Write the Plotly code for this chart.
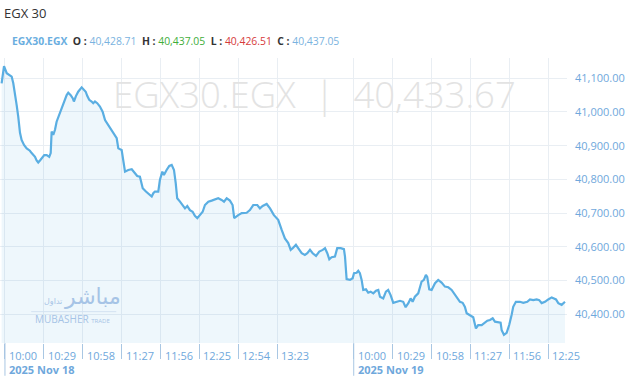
import plotly.graph_objects as go

# minute index (day 1 starts at 0, day 2 starts at 260)
minute_idx = [-2.5, -0.7, 1.3, 3.2, 5.0, 6.2, 7.5, 8.7, 9.9, 11.2, 12.4, 14.2, 16.2, 18.6, 19.9, 21.1, 22.4, 23.6, 24.8, 26.1,
              27.8, 29.3, 31.1, 33.0, 34.1, 34.8, 36.0, 37.3, 38.5, 41.0, 43.5, 46.0, 47.2, 49.0, 50.5, 51.4, 52.9, 54.6, 57.2, 58.4,
              60.2, 61.4, 62.8, 64.6, 65.8, 67.1, 68.8, 70.8, 72.8, 74.6, 77.0, 79.5, 82.0, 83.3, 84.5, 87.0, 89.5, 91.9, 94.5, 96.9,
              98.6, 100.6, 102.7, 105.1, 107.6, 109.4, 110.6, 111.8, 114.3, 115.5, 117.3, 118.5, 120.5, 122.5, 124.3, 126.0, 127.3, 128.4, 130.5, 132.5,
              134.2, 135.9, 137.9, 139.9, 141.6, 143.4, 145.4, 147.4, 149.1, 151.6, 154.1, 156.5, 159.0, 161.5, 163.3, 165.3, 167.7, 169.7, 170.9, 173.9,
              176.5, 180.2, 182.6, 185.1, 188.1, 190.1, 192.1, 195.1, 197.6, 200.5, 203.7, 206.3, 208.7, 211.2, 213.0, 214.5, 216.9, 218.6, 221.2, 223.6,
              225.4, 227.4, 229.4, 231.9, 234.3, 236.9, 238.6, 240.3, 241.8, 243.5, 246.0, 247.7, 250.3, 252.7, 253.5, 254.7, 257.2, 259.2, 260.2, 262.2,
              263.4, 264.6, 265.9, 267.1, 269.1, 270.8, 272.6, 274.6, 276.6, 278.3, 279.6, 282.0, 284.0, 285.7, 287.5, 289.5, 292.0, 294.5, 296.9, 298.7,
              300.7, 302.4, 303.9, 305.6, 308.1, 310.6, 312.3, 313.8, 314.8, 316.3, 318.1, 320.6, 323.0, 325.5, 328.0, 330.5, 333.0, 335.5, 337.9, 339.2,
              341.2, 342.9, 344.2, 346.6, 349.1, 351.1, 352.8, 355.4, 357.8, 359.6, 361.6, 363.6, 365.3, 367.8, 369.5, 370.3, 372.0, 374.0, 375.9, 377.7,
              378.9, 380.9, 383.9, 386.4, 389.4, 391.4, 393.8, 396.4, 398.3, 400.1, 402.6, 405.0, 407.6, 409.3, 410.8, 412.5, 415.0, 417.5]

index_values = [41085, 41136, 41115, 41110, 41105, 41085, 41056, 41021, 40986, 40938, 40917, 40902, 40892, 40885, 40878, 40872, 40867, 40856, 40850, 40856,
                40863, 40872, 40872, 40867, 40878, 40942, 40932, 40947, 40971, 40996, 41026, 41050, 41057, 41050, 41041, 41031, 41047, 41060, 41073, 41067,
                41060, 41047, 41036, 41031, 41026, 41031, 41026, 41016, 41001, 40976, 40961, 40947, 40932, 40922, 40892, 40887, 40823, 40828, 40830, 40818,
                40810, 40808, 40774, 40764, 40754, 40749, 40759, 40764, 40764, 40798, 40823, 40813, 40828, 40840, 40843, 40828, 40789, 40744, 40734, 40724,
                40714, 40721, 40709, 40704, 40692, 40685, 40694, 40704, 40724, 40734, 40737, 40741, 40744, 40739, 40734, 40744, 40737, 40724, 40685, 40694,
                40700, 40701, 40709, 40724, 40724, 40714, 40721, 40727, 40714, 40694, 40680, 40650, 40625, 40611, 40591, 40596, 40606, 40596, 40581, 40576,
                40581, 40591, 40581, 40573, 40586, 40591, 40596, 40581, 40563, 40569, 40571, 40596, 40596, 40593, 40571, 40504, 40502, 40507, 40522, 40523,
                40529, 40522, 40502, 40472, 40474, 40464, 40467, 40462, 40470, 40472, 40452, 40447, 40467, 40472, 40457, 40434, 40437, 40440, 40437, 40421,
                40433, 40447, 40437, 40452, 40462, 40497, 40502, 40517, 40511, 40474, 40472, 40492, 40502, 40494, 40482, 40480, 40472, 40457, 40442, 40437,
                40434, 40422, 40403, 40398, 40391, 40358, 40368, 40368, 40375, 40381, 40383, 40388, 40378, 40376, 40375, 40353, 40339, 40345, 40368, 40398,
                40422, 40437, 40437, 40434, 40437, 40444, 40442, 40444, 40442, 40433, 40437, 40444, 40450, 40447, 40444, 40433, 40428, 40437.05]

tick_vals = [0, 29, 58, 87, 116, 145, 174, 203, 260, 289, 318, 347, 376, 405]
tick_text = ["10:00", "10:29", "10:58", "11:27", "11:56", "12:25", "12:54", "13:23",
             "10:00", "10:29", "10:58", "11:27", "11:56", "12:25"]
day_vals = [0, 260]
day_text = ["2025 Nov 18", "2025 Nov 19"]
y_ticks = [40400, 40500, 40600, 40700, 40800, 40900, 41000, 41100]

title_text = "EGX 30"
symbol = "EGX30.EGX"
ohlc = {"O": "40,428.71", "H": "40,437.05", "L": "40,426.51", "C": "40,437.05"}
last_value = "40,433.67"

LINE = "#5aaee2"
AXTXT = "#6fa8dc"
FONT = "Open Sans"
LOGO = "#a6c4e6"

fig = go.Figure()
fig.add_trace(go.Scatter(
    x=minute_idx, y=index_values, mode="lines",
    line=dict(color=LINE, width=2.2),
    fill="tozeroy", fillcolor="rgba(90,174,226,0.10)",
    hoverinfo="skip", showlegend=False,
))

fig.update_layout(
    width=640, height=376,
    margin=dict(l=0, r=73, t=58, b=33),
    paper_bgcolor="white", plot_bgcolor="white",
    font=dict(family=FONT, size=11, color=AXTXT),
    xaxis=dict(range=[-3.7, 419], tickvals=tick_vals, showticklabels=False,
               showgrid=True, gridcolor="#e9eef3", gridwidth=1,
               ticks="outside", ticklen=15, tickcolor="#a9c7e3", tickwidth=1,
               zeroline=False, showline=False, fixedrange=True),
    yaxis=dict(range=[40314.8, 41160], side="right", tickvals=y_ticks,
               tickformat=",.2f", showgrid=True, gridcolor="#e9eef3", gridwidth=1,
               tickfont=dict(family=FONT, size=11, color=AXTXT),
               ticks="", ticklabelstandoff=7, zeroline=False, showline=False),
)

# x tick labels (left aligned after tick marks)
for v, t in zip(tick_vals, tick_text):
    fig.add_annotation(x=v, y=-0.012, xref="x", yref="paper", text=t, showarrow=False,
                       xanchor="left", yanchor="top", xshift=2,
                       font=dict(family=FONT, size=11, color=AXTXT))
for v, t in zip(day_vals, day_text):
    fig.add_annotation(x=v, y=-0.058, xref="x", yref="paper", text="<b>" + t + "</b>", showarrow=False,
                       xanchor="left", yanchor="top", xshift=2,
                       font=dict(family=FONT, size=11, color=AXTXT))
    fig.add_shape(type="line", xref="x", yref="paper", x0=v, x1=v, y0=0, y1=-0.115,
                  line=dict(color="#a9c7e3", width=1))

# watermark
fig.add_annotation(x=0.555, y=0.875, xref="paper", yref="paper",
                   text=symbol + "  |  " + last_value, showarrow=False,
                   font=dict(family=FONT, size=36.5, color="#e3e3e3", weight=300),
                   xanchor="center", yanchor="middle")

# Mubasher logo
fig.add_annotation(x=0.163, y=0.163, xref="paper", yref="paper", text="مباشر",
                   showarrow=False, font=dict(family="DejaVu Sans", size=22, color=LOGO),
                   xanchor="center", yanchor="middle")
fig.add_annotation(x=0.094, y=0.145, xref="paper", yref="paper", text="تداول",
                   showarrow=False, font=dict(family="DejaVu Sans", size=8, color=LOGO),
                   xanchor="center", yanchor="middle")
fig.add_shape(type="line", xref="paper", yref="paper", x0=0.055, x1=0.205, y0=0.11, y1=0.11,
              line=dict(color="#d3e2f2", width=1))
fig.add_annotation(x=0.128, y=0.085, xref="paper", yref="paper",
                   text="MUBASHER <span style='font-size:6px'>TRADE</span>",
                   showarrow=False, font=dict(family=FONT, size=10, color=LOGO),
                   xanchor="center", yanchor="middle")

# header
fig.add_annotation(x=0.003, y=1.0, xref="paper", yref="paper", yanchor="bottom", xanchor="left",
                   yshift=34, text=title_text, showarrow=False,
                   font=dict(family=FONT, size=13, color="#333333"))
hdr = (f"<b><span style='color:#6aaee0'>{symbol}</span></b>  "
       f"<b><span style='color:#333'>O :</span></b> <span style='color:#7ab3e0'>{ohlc['O']}</span>  "
       f"<b><span style='color:#333'>H :</span></b> <span style='color:#3fae3a'>{ohlc['H']}</span>  "
       f"<b><span style='color:#333'>L :</span></b> <span style='color:#d63a3a'>{ohlc['L']}</span>  "
       f"<b><span style='color:#333'>C :</span></b> <span style='color:#7ab3e0'>{ohlc['C']}</span>")
fig.add_annotation(x=0.018, y=1.0, xref="paper", yref="paper", yanchor="bottom", xanchor="left",
                   yshift=8, text=hdr, showarrow=False,
                   font=dict(family=FONT, size=10.4, color="#333"))

fig.write_html("out.html")
